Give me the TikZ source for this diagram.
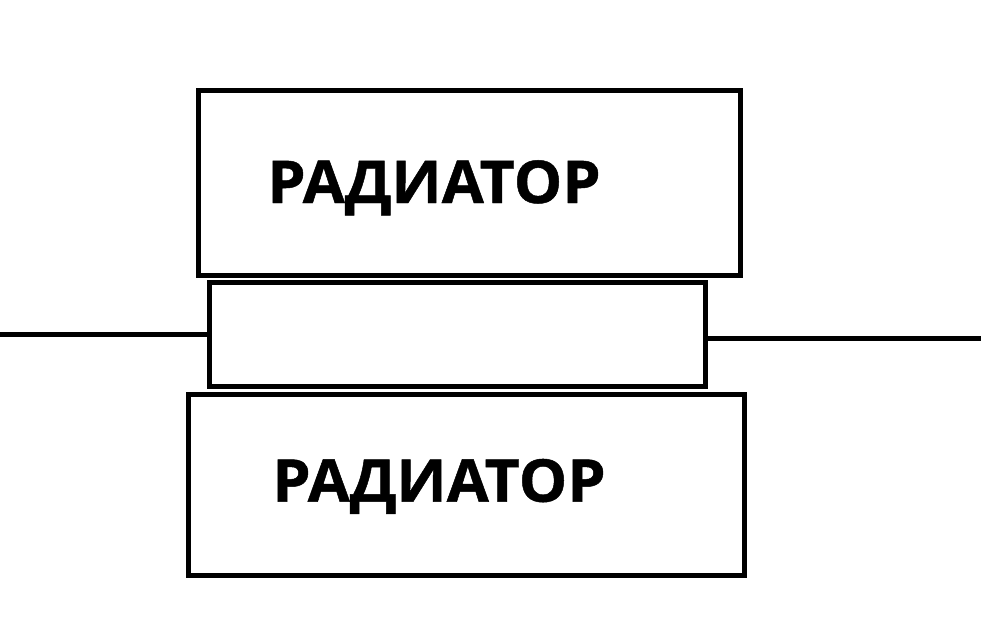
\documentclass[tikz,border=0pt]{standalone}
\usepackage{fontspec}
\newfontfamily\labelfont[FakeStretch=1.035,FakeBold=0.8]{Open Sans Bold}
\begin{document}
\begin{tikzpicture}[x=1pt,y=-1pt,
  box/.style={draw=black,line width=5pt,inner sep=0pt,rectangle},
  lbl/.style={font=\labelfont\fontsize{59}{59}\selectfont,inner sep=0pt,anchor=base},
  wire/.style={draw=black,line width=5pt}]
\useasboundingbox[fill=white] (0,0) rectangle (981,643);
\node[box,minimum width=542pt,minimum height=185pt] (top) at (469.5,183) {};
\node[box,minimum width=495.5pt,minimum height=104pt] (mid) at (457.25,334.5) {};
\node[box,minimum width=556pt,minimum height=180.5pt] (bot) at (466.5,484.75) {};
\node[lbl] (toplbl) at (434,203) {РАДИАТОР};
\node[lbl] (botlbl) at (439,501.7) {РАДИАТОР};
\coordinate (L) at (0,334);
\coordinate (R) at (981,338.5);
\draw[wire] (L) -- (L -| mid.west);
\draw[wire] (R) -- (R -| mid.east);
\end{tikzpicture}
\end{document}
